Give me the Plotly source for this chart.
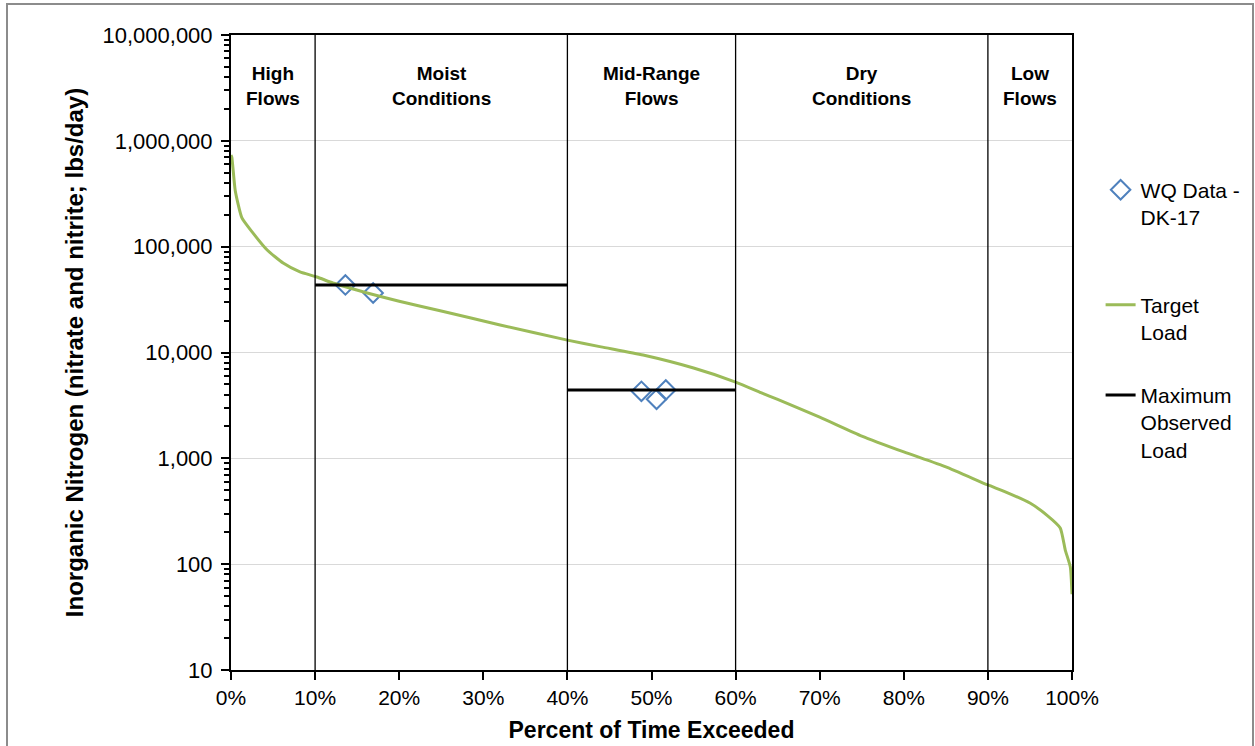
import plotly.graph_objects as go

# ---- data ----
pct_exceeded = [0, 0.1, 0.5, 1.3, 2.6, 4.3, 6.2, 8.2, 10.2, 12.1, 14.1, 16.2, 20, 25, 32, 40, 44,
                49, 55, 60, 63, 65, 70, 75, 80, 85, 90, 92, 95, 97, 98.6, 99.2, 99.8, 100]
target_load = [735000, 700000, 340000, 187000, 135000, 93000, 70000, 57700, 51700, 45400, 40700,
               36500, 30500, 24700, 18200, 13100, 11300, 9460, 7130, 5260, 4180, 3600, 2450, 1625,
               1150, 830, 560, 485, 378, 291, 220, 136, 94, 52]

wq_pct = [13.6, 16.9, 48.8, 50.6, 51.7]
wq_load = [43500, 36500, 4300, 3610, 4430]

max_x = [10, 40, None, 40, 60]
max_y = [43500, 43500, None, 4430, 4430]

zone_bounds = [10, 40, 60, 90]
zone_centers = [5, 25, 50, 75, 95]
zone_labels = ["High<br>Flows", "Moist<br>Conditions", "Mid-Range<br>Flows",
               "Dry<br>Conditions", "Low<br>Flows"]

x_ticks = [0, 10, 20, 30, 40, 50, 60, 70, 80, 90, 100]
x_tick_text = ["0%", "10%", "20%", "30%", "40%", "50%", "60%", "70%", "80%", "90%", "100%"]
y_ticks = [10, 100, 1000, 10000, 100000, 1000000, 10000000]
y_tick_text = ["10", "100", "1,000", "10,000", "100,000", "1,000,000", "10,000,000"]

FONT = "Arial, Liberation Sans, sans-serif"

fig = go.Figure()
fig.add_trace(go.Scatter(
    x=wq_pct, y=wq_load, mode="markers", name="WQ Data -<br>DK-17", showlegend=True,
    marker=dict(symbol="diamond-open", size=15, color="#4F81BD", line=dict(width=2, color="#4F81BD")),
    legend="legend"))
fig.add_trace(go.Scatter(
    x=pct_exceeded, y=target_load, mode="lines", name="Target<br>Load", showlegend=True,
    line=dict(color="#9BBB59", width=3, shape="spline", smoothing=0.5), legend="legend2"))
fig.add_trace(go.Scatter(
    x=max_x, y=max_y, mode="lines", name="Maximum<br>Observed<br>Load", showlegend=True,
    line=dict(color="black", width=3), connectgaps=False, legend="legend3"))

shapes = []
for b in zone_bounds:
    shapes.append(dict(type="line", xref="x", yref="paper", x0=b, x1=b, y0=0, y1=1,
                       line=dict(color="black", width=1.3), layer="above"))
# outer chart border
shapes.append(dict(type="rect", xref="paper", yref="paper",
                   x0=(7 - 231) / 841, x1=(1253 - 231) / 841,
                   y0=(670 - 760) / 635, y1=(670 - 4) / 635,
                   line=dict(color="#8C8C8C", width=2), layer="below"))

annotations = []
for xc, lab in zip(zone_centers, zone_labels):
    annotations.append(dict(x=xc, y=(670 - 86) / 635, xref="x", yref="paper", text="<b>" + lab + "</b>",
                            showarrow=False, font=dict(family=FONT, size=19, color="black"),
                            align="center", xanchor="center", yanchor="middle"))

leg_common = dict(xanchor="left", yanchor="top", bgcolor="rgba(0,0,0,0)", borderwidth=0,
                  font=dict(family=FONT, size=21, color="black"), valign="top")

fig.update_layout(
    width=1255, height=746,
    margin=dict(l=231, r=183, t=35, b=76, autoexpand=False),
    paper_bgcolor="white", plot_bgcolor="white",
    font=dict(family=FONT, size=21, color="black"),
    showlegend=True,
    shapes=shapes, annotations=annotations,
    legend=dict(x=1.034, y=0.788, **leg_common),
    legend2=dict(x=1.034, y=0.607, **leg_common),
    legend3=dict(x=1.034, y=0.465, **leg_common),
)
fig.update_xaxes(
    range=[0, 100], tickvals=x_ticks, ticktext=x_tick_text, showgrid=False, zeroline=False,
    showline=True, linecolor="black", linewidth=2, mirror=True,
    ticks="outside", ticklen=8, tickwidth=2, tickcolor="black",
    tickfont=dict(family=FONT, size=21, color="black"),
    title=dict(text="<b>Percent of Time Exceeded</b>", font=dict(family=FONT, size=23, color="black"),
               standoff=14))
fig.update_yaxes(
    type="log", range=[1, 7], tickvals=y_ticks, ticktext=y_tick_text,
    showgrid=True, gridcolor="#D9D9D9", gridwidth=1, zeroline=False,
    showline=True, linecolor="black", linewidth=2, mirror=True,
    ticks="outside", ticklen=8, tickwidth=2, tickcolor="black", ticklabelstandoff=4,
    minor=dict(ticks="outside", ticklen=5, tickwidth=2, tickcolor="black", showgrid=False, dtick="D1"),
    tickfont=dict(family=FONT, size=22, color="black"),
    title=dict(text="<b>Inorganic Nitrogen (nitrate and nitrite; lbs/day)</b>",
               font=dict(family=FONT, size=24, color="black"), standoff=12))

fig.write_html("out.html")
